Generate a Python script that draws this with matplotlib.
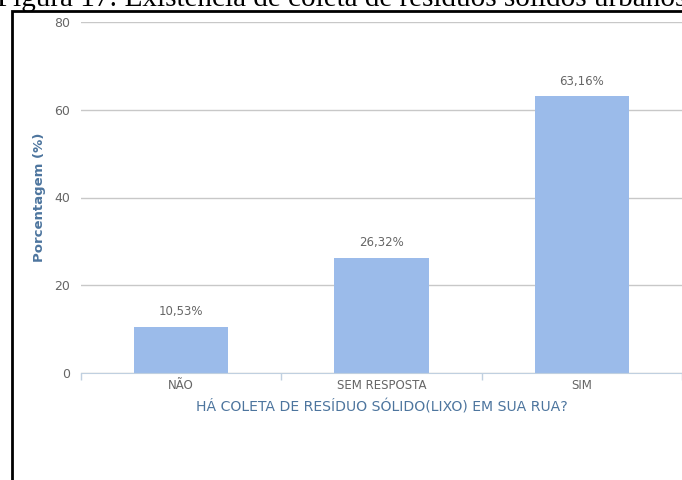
import matplotlib
matplotlib.use('Agg')
import matplotlib.pyplot as plt
from matplotlib.patches import Rectangle


# Data

categories = ['NÃO', 'SEM RESPOSTA', 'SIM']
percentages = [10.53, 26.32, 63.16]
value_labels = ['10,53%', '26,32%', '63,16%']
y_ticks = [0, 20, 40, 60, 80]

caption = 'Figura 17: Existência de coleta de resíduos sólidos urbanos'
y_title = 'Porcentagem (%)'
x_title = 'HÁ COLETA DE RESÍDUO SÓLIDO(LIXO) EM SUA RUA?'

bar_color = '#9bbbea'
title_color = '#4d759e'
text_color = '#666666'
grid_color = '#c8c8c8'


fig = plt.figure(figsize=(6.82, 4.80), dpi=100)
fig.patch.set_facecolor('white')
ax = fig.add_axes([81 / 682, 107 / 480, 601 / 682, 351 / 480])

x = list(range(len(categories)))
ax.bar(x, percentages, width=0.47, color=bar_color, zorder=3)

for xi, val, lab in zip(x, percentages, value_labels):
    ax.annotate(lab, (xi, val), xytext=(0, 6), textcoords='offset points',
                ha='center', va='bottom', fontsize=8.5, color=text_color)

ax.set_xlim(-0.5, 2.5)
ax.set_ylim(0, 80)
ax.set_yticks(y_ticks)
ax.set_yticklabels([str(t) for t in y_ticks])
ax.yaxis.grid(True, color=grid_color, linewidth=1, zorder=0)
ax.tick_params(axis='y', length=0, pad=8, labelsize=9, labelcolor=text_color)

# category ticks sit between the bars
ax.set_xticks(x)
ax.set_xticklabels(categories)
ax.set_xticks([-0.5, 0.5, 1.5, 2.5], minor=True)
ax.tick_params(axis='x', which='major', length=0, pad=4, labelsize=8.5,
               labelcolor=text_color)
ax.tick_params(axis='x', which='minor', length=5, color='#c0d0e0', width=1)

for side in ['top', 'right', 'left']:
    ax.spines[side].set_visible(False)
ax.spines['bottom'].set_color('#c0d0e0')
ax.spines['bottom'].set_zorder(4)

ax.set_ylabel(y_title, fontsize=9.5, fontweight='bold', color=title_color, labelpad=6)
ax.set_xlabel(x_title, fontsize=10.1, color=title_color, labelpad=6)

# caption cut off at the top of the screenshot
fig.text(-0.005, 474 / 480, caption, fontsize=21, family='Liberation Serif',
         ha='left', va='baseline', color='black')

# black frame around the chart
fig.patches.append(Rectangle((12 / 682, -0.1), 1.2, (469 / 480) + 0.1,
                             transform=fig.transFigure, fill=False,
                             edgecolor='black', linewidth=2))

fig.savefig('out.png', dpi=100)
